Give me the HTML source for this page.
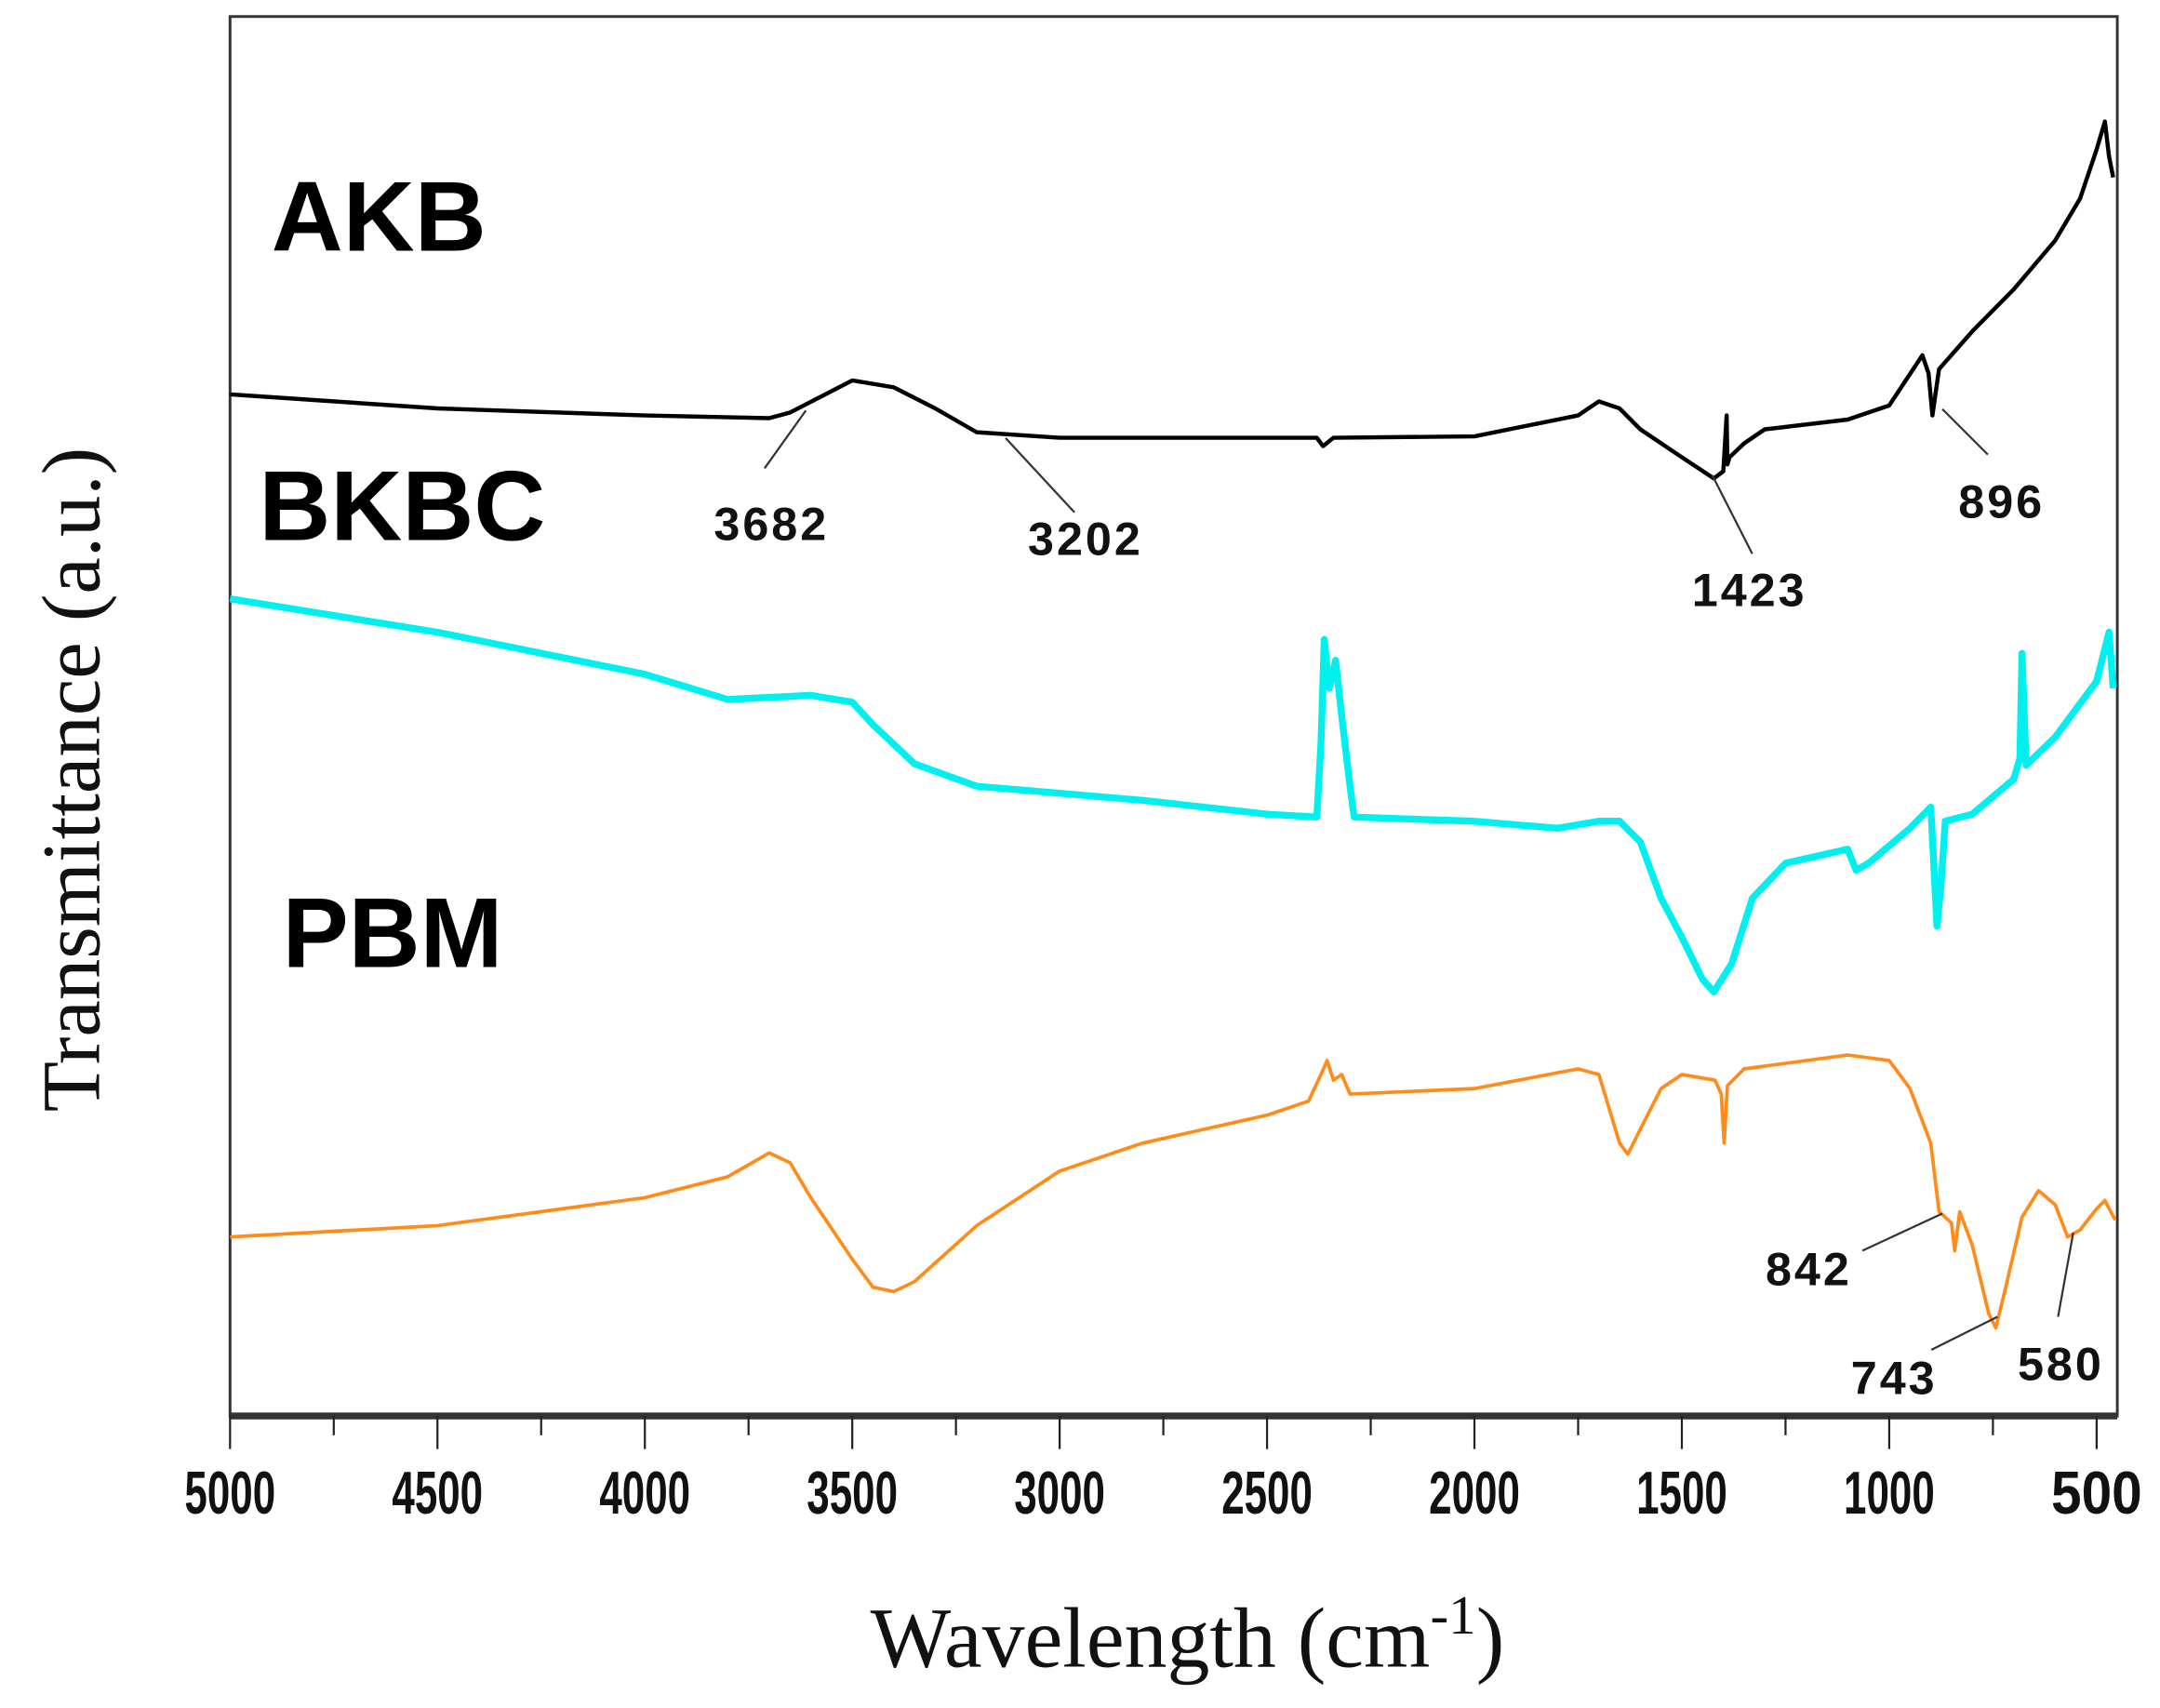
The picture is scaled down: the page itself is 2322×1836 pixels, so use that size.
<!DOCTYPE html>
<html><head><meta charset="utf-8"><style>
html,body{margin:0;padding:0;background:#fff;}
svg{display:block;}
</style></head><body>
<svg id="chart" width="2322" height="1836" viewBox="0 0 1568 1240" preserveAspectRatio="none" xmlns="http://www.w3.org/2000/svg">
<g id="plot"></g>
</svg>
<script>
const xTicks = [5000,4500,4000,3500,3000,2500,2000,1500,1000,500];
const akbX = [5000,4500,4000,3700,3650,3500,3400,3300,3200,3000,2500,2380,2365,2340,2000,1750,1700,1650,1600,1500,1423,1400,1392,1390,1385,1350,1300,1100,1000,920,905,896,880,800,700,600,540,500,480,470,460];
const akbY = [73.0,72.0,71.5,71.3,71.7,74.0,73.5,72.0,70.3,69.9,69.9,69.9,69.3,69.9,70.0,71.5,72.5,72.0,70.5,68.5,67.0,67.5,71.5,68.0,68.5,69.5,70.5,71.2,72.2,75.8,74.5,71.5,74.8,77.5,80.5,84.0,87.0,90.5,92.5,90.0,88.5];
const bkbcX = [5000,4500,4000,3800,3600,3500,3450,3350,3200,3000,2800,2500,2380,2370,2362,2350,2335,2320,2300,2290,2000,1800,1700,1650,1600,1550,1500,1450,1423,1380,1330,1250,1100,1080,1050,950,900,885,875,865,800,700,685,680,670,600,500,470,460];
const bkbcY = [58.4,56.0,53.0,51.2,51.5,51.0,49.4,46.6,45.0,44.5,44.0,43.0,42.8,48.0,55.5,52.0,54.0,50.0,45.0,42.8,42.5,42.0,42.5,42.5,41.0,37.0,34.2,31.2,30.3,32.3,37.0,39.5,40.5,39.0,39.5,42.0,43.5,35.0,38.0,42.5,43.0,45.5,47.0,54.5,46.5,48.5,52.5,56.0,52.0];
const pbmX = [5000,4500,4000,3800,3700,3650,3600,3500,3450,3400,3350,3200,3000,2800,2500,2400,2370,2355,2340,2320,2300,2000,1750,1700,1650,1630,1600,1550,1500,1420,1405,1398,1390,1350,1100,1000,950,900,880,850,842,830,800,760,743,720,680,640,600,570,540,500,480,455];
const pbmY = [12.8,13.6,15.6,17.1,18.8,18.1,15.6,11.2,9.2,8.9,9.6,13.6,17.5,19.5,21.5,22.5,24.4,25.4,24.0,24.4,23.0,23.4,24.8,24.4,19.5,18.7,20.5,23.4,24.4,24.0,23.0,19.5,23.6,24.8,25.8,25.4,23.4,19.5,14.6,13.8,11.8,14.6,12.2,7.3,6.3,9.1,14.2,16.1,15.1,12.8,13.3,14.8,15.4,14.0];
const annotations = [
 {t:"3682", lx:560, ly:392, x1:555,y1:340,x2:585,y2:298},
 {t:"3202", lx:788, ly:403, x1:780,y1:372,x2:730,y2:318},
 {t:"1423", lx:1270, ly:440, x1:1272,y1:402,x2:1243,y2:345},
 {t:"896", lx:1453, ly:376, x1:1443,y1:330,x2:1410,y2:297},
 {t:"842", lx:1313, ly:933, x1:1352,y1:908,x2:1410,y2:881},
 {t:"743", lx:1375, ly:1012, x1:1402,y1:980,x2:1450,y2:956},
 {t:"580", lx:1496, ly:1002, x1:1494,y1:956,x2:1505,y2:895}
];
const L=167,R=1537,T=12,B=1028;
const xs = v => L + (5000 - v) * (1522 - 167) / 4500;
const ys = v => B - v * (B - T) / 100;
const g = document.getElementById('plot');
const NS = "http://www.w3.org/2000/svg";
function mk(tag, attrs, parent){const e=document.createElementNS(NS,tag);for(const k in attrs)e.setAttribute(k,attrs[k]);(parent||g).appendChild(e);return e;}

const frame = mk('rect',{x:L,y:T,width:R-L,height:B-T,fill:'none',stroke:'#333','stroke-width':2});


const xaxis = mk('line',{x1:L,y1:B,x2:R,y2:B,stroke:'#333','stroke-width':5});



xTicks.forEach((v,i)=>{
  const t = mk('line',{x1:xs(v),y1:B,x2:xs(v),y2:B+24,stroke:'#222','stroke-width':1.5});
  
  
  const lb = mk('text',{x:xs(v),y:1099,'text-anchor':'middle','font-family':'Liberation Sans, sans-serif','font-weight':'bold','font-size':44,fill:'#111',textLength:66,lengthAdjust:'spacingAndGlyphs'});
  lb.textContent = String(v);
  
  
  if(i<xTicks.length-1){
    const m = mk('line',{x1:xs(v-250),y1:B,x2:xs(v-250),y2:B+14,stroke:'#222','stroke-width':1.5});
    
    
  }
});

function series(X,Y,color,w,name){
  const d = X.map((x,i)=>(i?'L':'M')+xs(x).toFixed(1)+','+ys(Y[i]).toFixed(1)).join(' ');
  const p = mk('path',{d:d,fill:'none',stroke:color,'stroke-width':w,'stroke-linejoin':'round'});
  
  
}
series(akbX,akbY,'#000',3,'akb-spectrum');
series(bkbcX,bkbcY,'#00f0f0',5,'bkbc-spectrum');
series(pbmX,pbmY,'#ff8c1a',2.5,'pbm-spectrum');

annotations.forEach(a=>{
  const l = mk('line',{x1:a.x1,y1:a.y1,x2:a.x2,y2:a.y2,stroke:'#333','stroke-width':1.5});
  
  
  const t = mk('text',{x:a.lx,y:a.ly,'text-anchor':'middle','font-family':'Liberation Sans, sans-serif','font-weight':'bold','font-size':34,fill:'#111','letter-spacing':2});
  t.textContent = a.t;
  
  
});

[["AKB",197,182],["BKBC",188,392],["PBM",205,702]].forEach(s=>{
  const t = mk('text',{x:s[1],y:s[2],'font-family':'Liberation Sans, sans-serif','font-weight':'bold','font-size':72,fill:'#000'});
  t.textContent = s[0];
  
  
});

const xt = mk('text',{x:862,y:1210,'text-anchor':'middle','font-family':'Liberation Serif, serif','font-size':62,fill:'#111'});
xt.innerHTML = 'Wavelength (cm<tspan dy="-24" font-size="40">-1</tspan><tspan dy="24">)</tspan>';


const yt = mk('text',{x:0,y:0,'text-anchor':'middle','font-family':'Liberation Serif, serif','font-size':60,fill:'#111',transform:'translate(72,566) rotate(-90)'});
yt.textContent = 'Transmittance (a.u.)';


</script>
</body></html>
